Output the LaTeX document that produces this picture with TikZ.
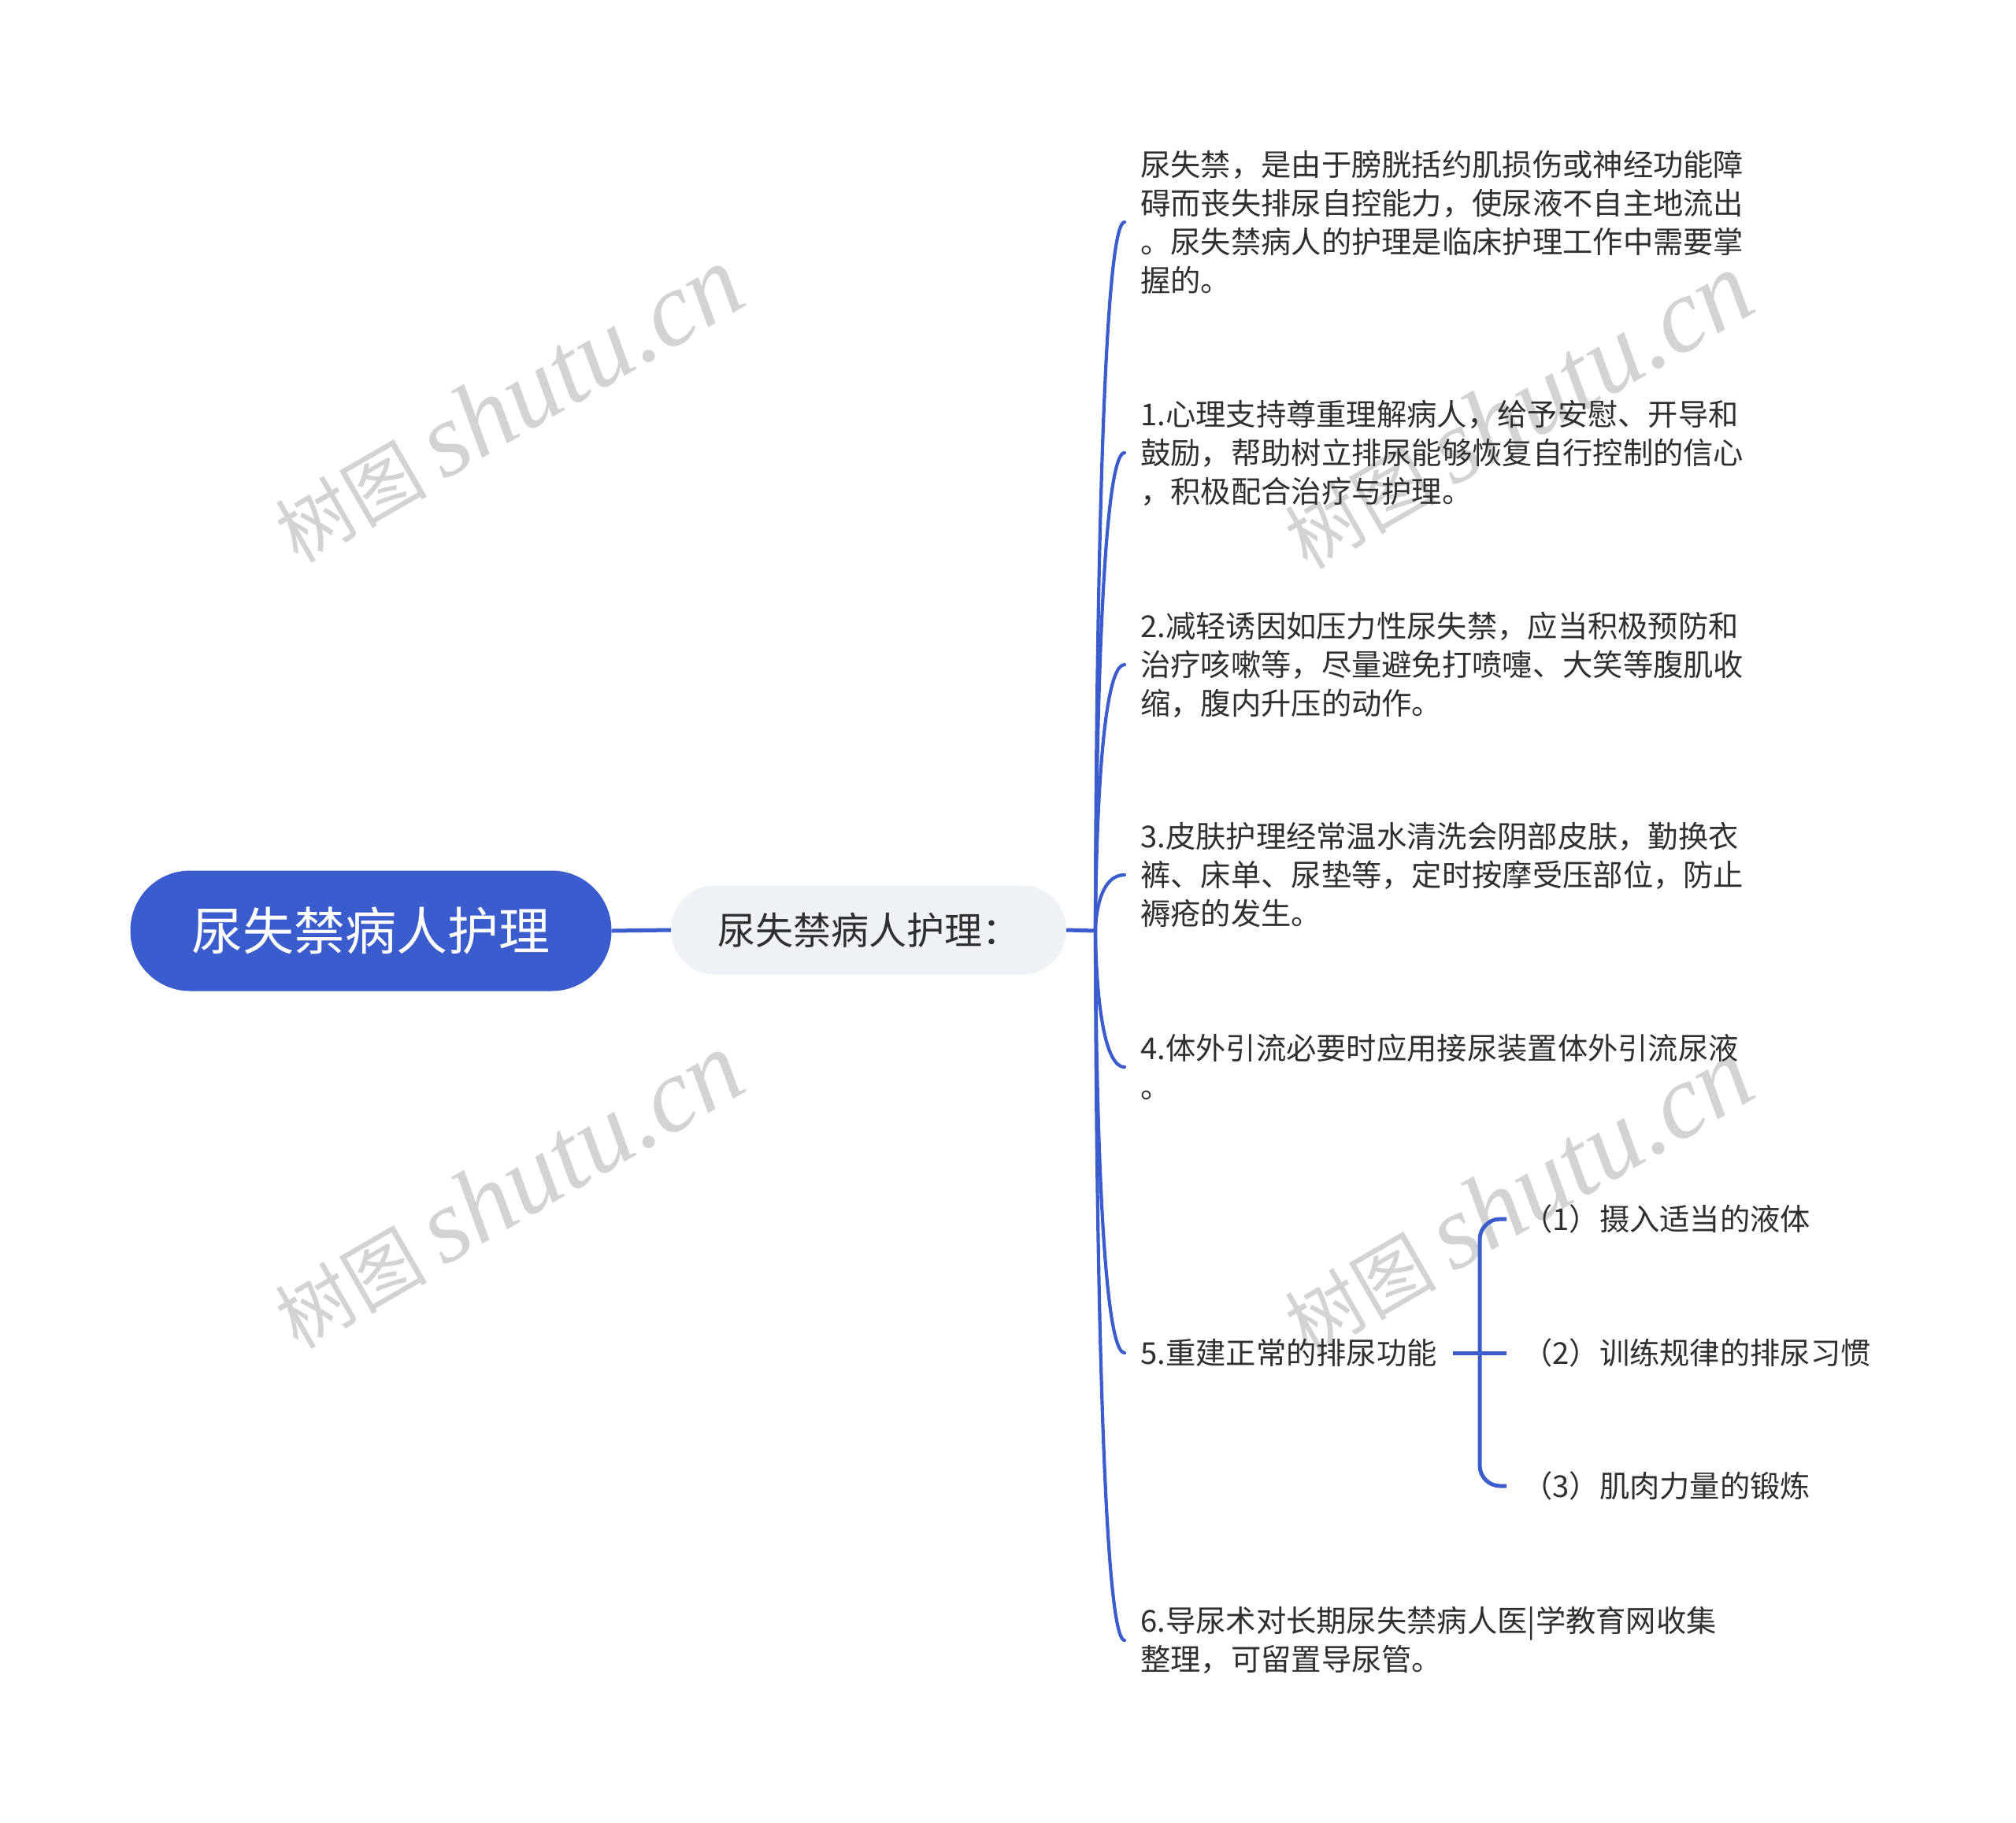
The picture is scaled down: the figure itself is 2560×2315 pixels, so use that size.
\documentclass[tikz,border=0pt]{standalone}
\usepackage{fontspec}
\setmainfont{Noto Sans CJK SC}
\newfontfamily\wmlatin{Liberation Serif}
\newfontfamily\wmcjk{Noto Sans CJK SC}
\definecolor{mainblue}{HTML}{3A5CCC}
\definecolor{subfill}{HTML}{EEF1F5}
\definecolor{txt}{HTML}{2F2F2F}
\definecolor{wmgray}{HTML}{D3D3D3}
\begin{document}
\begin{tikzpicture}[x=1pt,y=-1pt,
  rootbox/.style={fill=mainblue, rounded corners=76pt, minimum width=611pt, minimum height=153pt, inner sep=0pt, text=white, font=\fontsize{65}{70}\selectfont},
  subbox/.style={fill=subfill, rounded corners=56pt, minimum width=502pt, minimum height=113pt, inner sep=0pt, text=txt, font=\fontsize{48}{52}\selectfont},
  leafbox/.style={anchor=west, inner xsep=20pt, inner ysep=0pt, align=left, text=txt, font=\fontsize{38.3}{49}\selectfont},
  thick1/.style={draw=mainblue, line width=5pt},
  branch/.style={draw=mainblue, line width=4.2pt, line cap=round},
  wm/.style={text=wmgray, rotate=30, inner sep=0pt}
]
\useasboundingbox (0,0) rectangle (2560,2315);

% watermarks
\foreach \p in {(645,514),(1927,522),(645,1512),(1927,1520)}{
  \node[wm] at \p {\wmcjk\fontsize{96}{98}\selectfont 树图\ \wmlatin\itshape\fontsize{134}{136}\selectfont shutu.cn};
}

\node[rootbox] (root) at (471,1182) {尿失禁病人护理};
\node[subbox] (sub) at (1103,1181) {尿失禁病人护理：};
\coordinate (j) at (1391,1182);

\node[leafbox] (l0) at (1428,282) {尿失禁，是由于膀胱括约肌损伤或神经功能障\\碍而丧失排尿自控能力，使尿液不自主地流出\\。尿失禁病人的护理是临床护理工作中需要掌\\握的。};
\node[leafbox] (l1) at (1428,575) {1.心理支持尊重理解病人，给予安慰、开导和\\鼓励，帮助树立排尿能够恢复自行控制的信心\\，积极配合治疗与护理。};
\node[leafbox] (l2) at (1428,844) {2.减轻诱因如压力性尿失禁，应当积极预防和\\治疗咳嗽等，尽量避免打喷嚏、大笑等腹肌收\\缩，腹内升压的动作。};
\node[leafbox] (l3) at (1428,1111) {3.皮肤护理经常温水清洗会阴部皮肤，勤换衣\\裤、床单、尿垫等，定时按摩受压部位，防止\\褥疮的发生。};
\node[leafbox] (l4) at (1428,1355) {4.体外引流必要时应用接尿装置体外引流尿液\\。};
\node[leafbox] (l5) at (1428,1718) {5.重建正常的排尿功能};
\node[leafbox] (l6) at (1428,2083) {6.导尿术对长期尿失禁病人医|学教育网收集\\整理，可留置导尿管。};

\node[leafbox] (c1) at (1913,1548) {（1）摄入适当的液体};
\node[leafbox] (c2) at (1913,1718) {（2）训练规律的排尿习惯};
\node[leafbox] (c3) at (1913,1887) {（3）肌肉力量的锻炼};

\draw[thick1] (root.east) -- (sub.west);
\draw[thick1] (sub.east) -- (j);

\foreach \n in {l0,l1,l2,l3,l4,l5,l6}{
  \draw[branch] (j) .. controls (j) and (j |- \n.west) .. (\n.west);
}

\coordinate (k) at (1879,1718);
\draw[thick1] (l5.east) -- (c2.west);
\draw[thick1, rounded corners=26pt] (k) |- (c1.west);
\draw[thick1, rounded corners=26pt] (k) |- (c3.west);
\end{tikzpicture}
\end{document}
